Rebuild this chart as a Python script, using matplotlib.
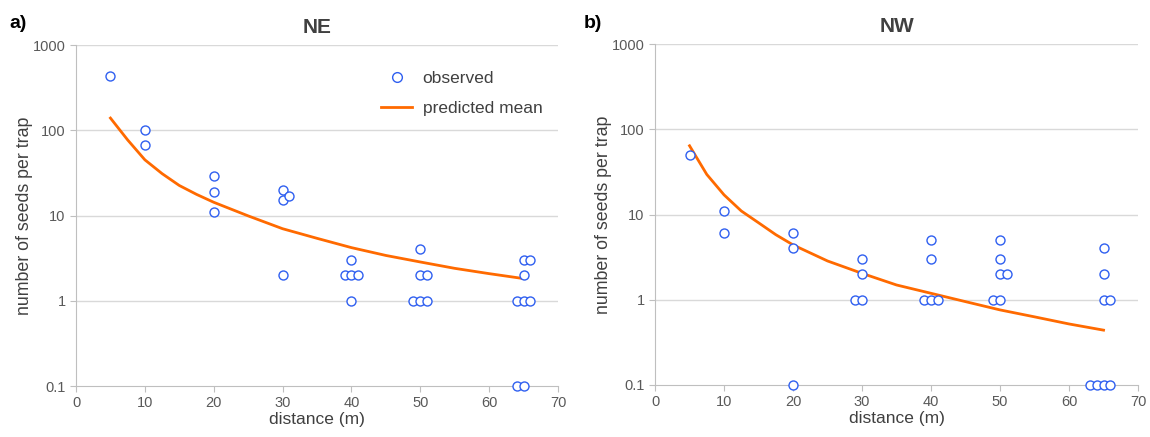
import numpy as np
import matplotlib.pyplot as plt
from matplotlib.lines import Line2D

plt.rcParams['font.family'] = ['Liberation Sans', 'DejaVu Sans']

# --- observed seeds per trap (NE) ---
ne_dist = [5, 10, 10, 20, 20, 20, 30, 30, 31, 30,
           40, 39, 40, 41, 40,
           50, 50, 51, 49, 50, 51,
           65, 66, 65, 64, 65, 66, 64, 65]
ne_seeds = [430, 100, 67, 29, 19, 11, 20, 15, 17, 2,
            3, 2, 2, 2, 1,
            4, 2, 2, 1, 1, 1,
            3, 3, 2, 1, 1, 1, 0.1, 0.1]

# --- observed seeds per trap (NW) ---
nw_dist = [5, 10, 10, 20, 20, 20,
           30, 30, 29, 30,
           40, 40, 39, 40, 41,
           50, 50, 50, 51, 49, 50,
           65, 65, 65, 66, 63, 64, 65, 66]
nw_seeds = [50, 11, 6, 6, 4, 0.1,
            3, 2, 1, 1,
            5, 3, 1, 1, 1,
            5, 3, 2, 2, 1, 1,
            4, 2, 1, 1, 0.1, 0.1, 0.1, 0.1]

# --- predicted mean curves ---
pred_dist = [5, 7.5, 10, 12.5, 15, 17.5, 20, 25, 30, 35, 40, 45, 50, 55, 60, 65]
ne_pred = [139, 77, 45, 31, 22.5, 17.7, 14.3, 9.9, 7.0, 5.4, 4.2, 3.4, 2.85, 2.4, 2.08, 1.82]
nw_pred = [64, 29.5, 17, 11, 8.0, 5.8, 4.4, 2.85, 2.04, 1.49, 1.19, 0.95, 0.76, 0.63, 0.52, 0.44]

BLEU = '#2f5ff0'
ORANGE = '#ff6a00'
GRIS = '#d9d9d9'
TEXTE = '#404040'

fig = plt.figure(figsize=(11.5, 4.37), dpi=100)
ax1 = fig.add_axes([0.0661, 0.1167, 0.4191, 0.7803])
ax2 = fig.add_axes([0.5696, 0.119, 0.4200, 0.7803])


def style_axe(ax, titre, dist, seeds, pred):
    ax.set_yscale('log')
    ax.set_ylim(0.1, 1000)
    ax.set_xlim(0, 70)
    for y in [1, 10, 100, 1000]:
        ax.axhline(y, color=GRIS, linewidth=1.0, zorder=0)
    ax.plot(pred_dist, pred, color=ORANGE, linewidth=2.0, zorder=2,
            solid_joinstyle='round')
    ax.scatter(dist, seeds, s=42, facecolors='white', edgecolors=BLEU,
               linewidths=1.0, zorder=3, clip_on=False)
    for s in ['top', 'right']:
        ax.spines[s].set_visible(False)
    ax.spines['left'].set_color('#bfbfbf')
    ax.spines['bottom'].set_color('#bfbfbf')
    ax.set_xticks(range(0, 71, 10))
    ax.set_yticks([0.1, 1, 10, 100, 1000])
    ax.set_yticklabels(['0.1', '1', '10', '100', '1000'])
    ax.minorticks_off()
    ax.tick_params(axis='both', colors='#bfbfbf', labelcolor='#595959',
                   labelsize=10.5, length=4)
    ax.set_xlabel('distance (m)', fontsize=12.5, color=TEXTE, labelpad=1)
    ax.set_ylabel('number of seeds per trap', fontsize=12.8, color=TEXTE, labelpad=0)
    ax.set_title(titre, fontsize=15, fontweight='bold', color=TEXTE, pad=9)


style_axe(ax1, 'NE', ne_dist, ne_seeds, ne_pred)
style_axe(ax2, 'NW', nw_dist, nw_seeds, nw_pred)

fig.text(0.008, 0.935, 'a)', fontsize=14, fontweight='bold', color='black')
fig.text(0.508, 0.935, 'b)', fontsize=14, fontweight='bold', color='black')

poignees = [
    Line2D([], [], linestyle='none', marker='o', markersize=7,
           markerfacecolor='white', markeredgecolor=BLEU, markeredgewidth=1.0),
    Line2D([], [], color=ORANGE, linewidth=2.0),
]
ax1.legend(poignees, ['observed', 'predicted mean'], loc='upper right',
           bbox_to_anchor=(1.0, 0.97), frameon=False, fontsize=12.5,
           labelspacing=0.85, handlelength=1.8, handletextpad=0.6,
           labelcolor=TEXTE)

fig.savefig('out.png', dpi=100)
